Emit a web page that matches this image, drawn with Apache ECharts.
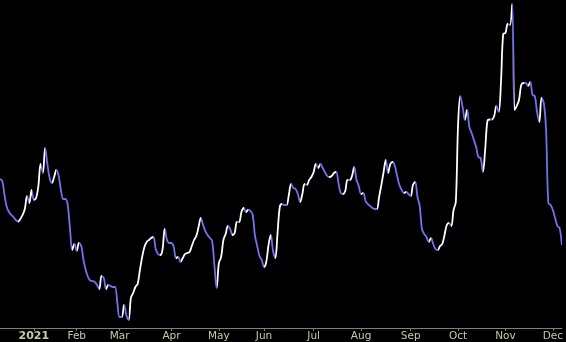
<!DOCTYPE html>
<html>
<head>
<meta charset="utf-8">
<script src="https://cdn.jsdelivr.net/npm/echarts@6/dist/echarts.min.js"></script>
<style>
html,body{margin:0;padding:0;background:#000;}
#chart{width:566px;height:342px;}
</style>
</head>
<body>
<div id="chart"></div>
<script>
// Trading calendar: first and last session, and market holidays in range
const startDate = '2020-12-10';
const endDate = '2021-12-07';
const holidays = ['2020-12-25','2021-01-01','2021-01-18','2021-02-15','2021-04-02','2021-05-31','2021-07-05','2021-09-06','2021-11-25'];
const monthNames = ['Jan','Feb','Mar','Apr','May','Jun','Jul','Aug','Sep','Oct','Nov','Dec'];

// Daily closing values (one per trading session)
const closes = [
149,147,133,121,116,113,111,108,106.5,109,
113,119,132,125,138,128,130,142,164,155,
180,164,150,145,151,158,152,138,129,129,
123,100,78,84,77,85,82,68,58,51,
47.5,47,46,43,39,52,50,39,43,42,
41,41,25,11,11,23,13,8,30,35,
41,44,58,71,81,86,88,90,91,79,
74,73,78,99,88,85,85,81,70,71,
66,70,74,75,76,82,88,92,101,110,
103,97,93,90,87,63,40,65,71,88,
94,102,99,93,95,106,106,116,120,116,
118,117,113,92,82,72,68,61,66,83,
93,77,70,95,121,124,123,123,133,144,
140,139,134,126,134,144,143,148,151,156,
164,160,164,160,156,152,151,152,155,156,
145,135,134,137,148,148,152,161,148,142,
134,135,127,124,122,120,119,119,131,143,
156,168,155,164,166,162,152,143,138,135,
136,134,132,143,146,131,122,99,94,91,
86,90,84,79,78,82,84,93,103,105,
102,118,126,203,232,221,208,218,201,195,
188,181,171,170,156,178,207,208.5,208.5,212,
222,216,245,294,295,304,303,324,218,222,
228,243,245,245,242,246,233,232,216,206,
230,225,198,125,123,118,110,102,100,83
];

function fmt(d){
  const m = d.getUTCMonth()+1, day = d.getUTCDate();
  return d.getUTCFullYear()+'-'+(m<10?'0':'')+m+'-'+(day<10?'0':'')+day;
}
const categories = [];
(function(){
  let d = new Date(startDate+'T00:00:00Z');
  const end = new Date(endDate+'T00:00:00Z');
  while (d <= end) {
    const wd = d.getUTCDay();
    const s = fmt(d);
    if (wd !== 0 && wd !== 6 && holidays.indexOf(s) < 0) categories.push(s);
    d = new Date(d.getTime() + 86400000);
  }
})();

// index of first session of each month (label/tick positions)
function isMonthStart(idx){
  if (idx === 0) return false;
  return categories[idx].slice(0,7) !== categories[idx-1].slice(0,7);
}

// colour segments by direction: rising white, falling blue
const UP = '#ffffff', DOWN = '#7272ee';
const pieces = [];
for (let i = 0; i < closes.length - 1; i++) {
  const c = closes[i+1] > closes[i] ? UP : DOWN;
  const last = pieces[pieces.length-1];
  if (last && last.color === c) { last.lt = i+1; }
  else pieces.push({gte: i, lt: i+1, color: c});
}
pieces[pieces.length-1].lte = closes.length - 1;
delete pieces[pieces.length-1].lt;

const chart = echarts.init(document.getElementById('chart'), null, {renderer:'canvas'});
chart.setOption({
  backgroundColor: '#000000',
  animation: false,
  grid: {left: 0, right: 4, top: 0, bottom: 14, containLabel: false},
  xAxis: {
    type: 'category',
    data: categories,
    boundaryGap: false,
    axisLine: {show: true, lineStyle: {color: '#7f7f7f', width: 1}},
    axisTick: {show: true, length: 3, lineStyle: {color: '#7f7f7f'},
      interval: function(idx){ return isMonthStart(idx); }},
    axisLabel: {
      show: true,
      interval: function(idx){ return isMonthStart(idx); },
      margin: 3,
      color: '#c9c9a3',
      fontFamily: 'DejaVu Sans',
      fontSize: 10.5,
      formatter: function(val){
        const m = parseInt(val.slice(5,7),10);
        if (m === 1) return '{y|' + val.slice(0,4) + '}';
        return monthNames[m-1];
      },
      rich: {y: {fontWeight: 'bold', color: '#c9c9a3', fontFamily: 'DejaVu Sans', fontSize: 11}}
    },
    splitLine: {show: false}
  },
  yAxis: {
    type: 'value', min: 0, max: 328, show: false,
    splitLine: {show: false}
  },
  visualMap: {
    show: false, type: 'piecewise', dimension: 0, seriesIndex: 0,
    pieces: pieces
  },
  series: [{
    type: 'line',
    data: closes,
    smooth: 0.35,
    symbol: 'none',
    lineStyle: {width: 1.8}
  }]
});
</script>
</body>
</html>
